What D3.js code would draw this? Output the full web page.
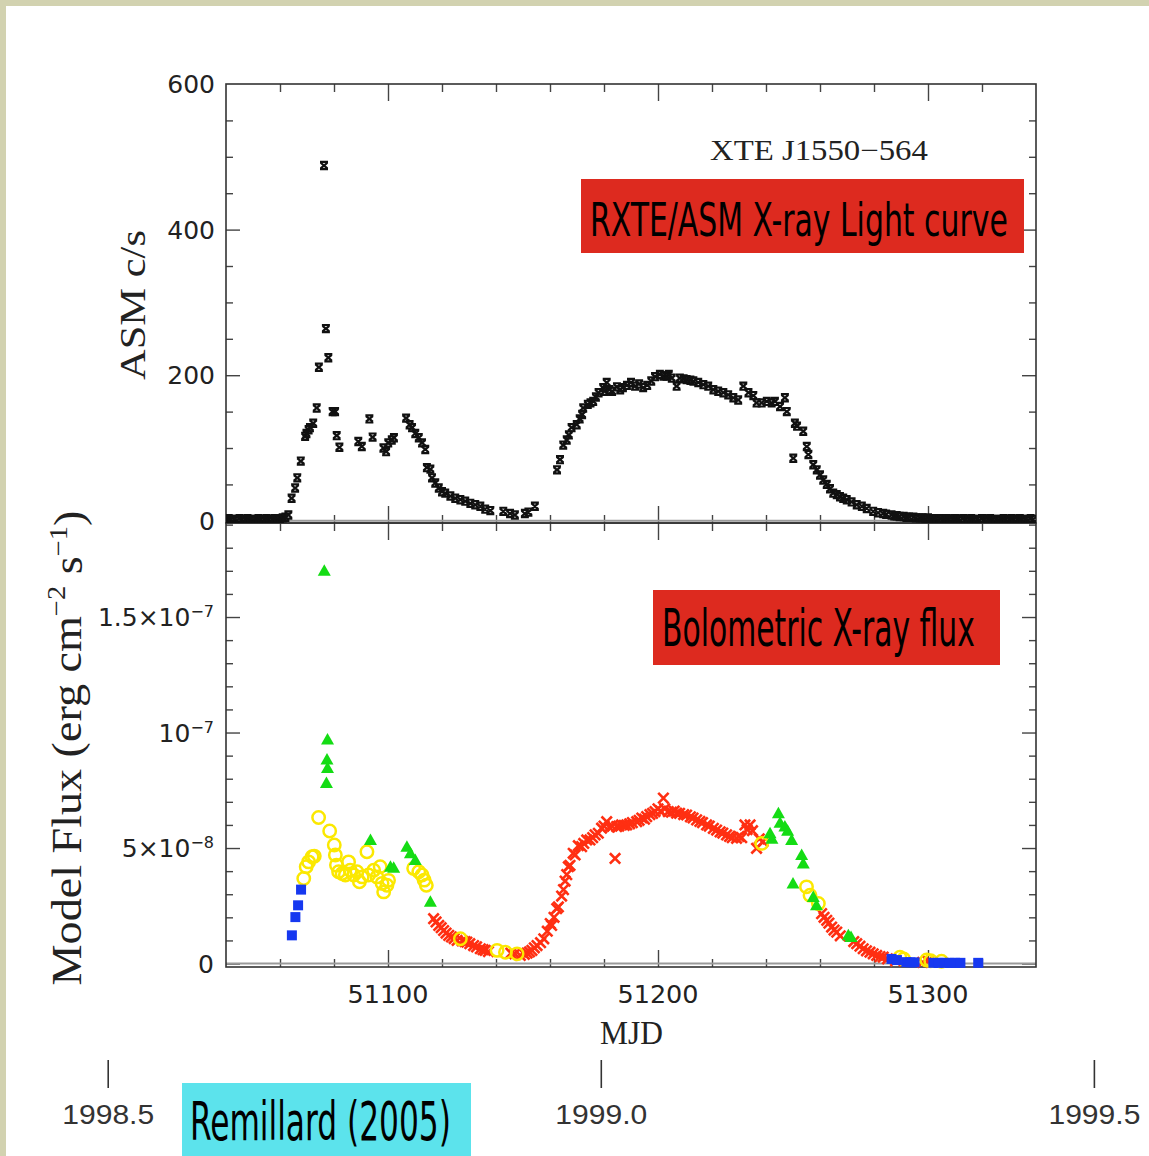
<!DOCTYPE html>
<html><head><meta charset="utf-8">
<script src="https://cdn.jsdelivr.net/npm/d3@7"></script>
<style>html,body{margin:0;padding:0;background:#fff;overflow:hidden}</style>
</head><body><svg id="c" width="1149" height="1156"></svg>
<script>
// ---------- DATA ----------
// RXTE/ASM count rate [MJD, c/s]
const asmData = [
[51040,2],[51041,3],[51042,2],[51043,2],[51044,1],[51045,3],[51046,2],[51047,2],[51048,3],[51049,2],[51050,1],[51051,2],[51052,3],[51053,2],[51054,2],[51055,3],[51056,2],[51057,2],[51058,3],[51059,2],[51060,3],[51061,4],[51062,5],
[51063.1,8],[51064.3,31],[51065.6,45],[51066.4,59],[51067.7,82],[51069.3,116],[51069.8,120],[51070.6,125],[51071.1,128],[51072.3,134],[51073.6,155],[51074.4,211],[51076.3,488],[51077,264],[51077.9,224],[51079.5,150],[51080.4,150],[51081,117],[51082,101],
[51089,109],[51090.3,102],[51093.1,140],[51094.3,115],[51098.3,100],[51099.3,95],[51100.1,107],[51101.4,111],[51102.2,114],
[51106.7,141],[51108,132],[51108.9,128],[51110.1,120],[51111.4,114],[51112.6,107],[51113.8,98],[51114.4,73],[51115.7,71],[51116.3,59],[51117.5,52],[51118.8,45],[51120,40],[51121.2,38],[51123.1,34],[51124.9,31],[51126.8,29],[51128.6,27],[51130.5,24],[51132.3,22],[51134.2,20],[51136,16],[51137.9,14],[51142.7,13],[51145.2,10],[51147,8],[51150.7,10],[51152,12],[51154.4,20],
[51162.6,70],[51163.7,84],[51164.9,104],[51166.2,111],[51167,118],[51168,128],[51169.9,132],[51171,140],[51171.9,146],[51172.3,155],[51174,160],[51175,162],[51176,164],[51177,170],[51178,176],[51179.7,183],[51180.3,178],[51181,190],[51182,180],[51183,178],[51184.8,184],[51186,180],[51187,183],[51188.5,186],[51190,190],[51191.5,185],[51193,188],[51194.5,183],[51196,186],[51197.5,192],[51198.9,198],[51200.7,201],[51202,199],[51203.2,199],[51204,201],[51205.1,196],[51206.9,185],[51208.1,196],[51209.5,195],[51210.6,194],[51212,193],[51213.1,192],[51214.9,190],[51216.8,187],[51218.6,185],[51220.5,180],[51222.3,178],[51224.2,176],[51226,173],[51227.9,169],[51229.7,166],[51231.6,185],[51233.5,176],[51235.3,172],[51236.5,162],[51238.4,162],[51240.3,164],[51242.1,162],[51243.3,164],[51245.2,157],[51247,169],[51247.7,150],[51250.1,86],[51250.7,134],[51251.5,130],[51253.8,123],[51255.1,102],[51255.7,91],[51257.5,77],[51258.8,70],[51260,63],[51261.2,56],[51262.5,50],[51263.7,44],[51264.9,38],[51266.2,36],[51267.4,33],[51268.6,31],[51269.9,29],[51271.7,26],[51273.6,22],[51275.5,20],[51277.3,17],[51279.7,13],[51281.5,11],[51283.4,10],[51284.5,9],[51286.5,8],[51287.5,7],[51288.4,7],[51289.5,6],[51291,6],[51292,5],[51293,5],[51294.6,5],[51295.5,4],[51297,4],[51298,4],[51299,3],[51300,4],[51301,3],[51302,3],[51303,3],[51304.4,3],
[51305,3],[51306,2],[51307,3],[51308,2],[51309,2],[51310,3],[51311,2],[51312,1],[51313,3],[51314,2],[51315,2],[51316,3],[51317,2],[51318,2],[51319,1],[51320,3],[51321,2],[51322,2],[51323,3],[51324,2],[51325,2],[51326,1],[51327,2],[51328,3],[51329,2],[51330,2],[51331,3],[51332,2],[51333,2],[51334,3],[51335,2],[51336,2],[51337,1],[51338,3],[51339,2]
];
// Model bolometric flux, units of 1e-8 erg cm^-2 s^-1, per spectral state
const redFlux = [
[51116.9,1.94],[51117.8,1.8],[51118.8,1.65],[51119.7,1.55],[51120.6,1.43],[51121.5,1.32],[51122.5,1.22],[51123.5,1.15],[51124.5,1.08],[51125.6,1.0],[51127.5,0.98],[51128.5,0.95],[51129.2,0.93],[51130.3,0.86],[51131.7,0.78],[51132.8,0.72],[51134.2,0.64],[51135.2,0.6],[51136,0.57],[51137.2,0.52],[51145.5,0.45],[51147,0.42],[51149,0.35],[51150.5,0.4],[51151.5,0.45],[51152.4,0.5],[51153.3,0.57],[51154.2,0.68],[51155.2,0.78],[51156.5,0.9],[51157.7,1.07],[51159,1.4],[51160.1,1.73],[51160.6,1.65],[51161.5,2.0],[51162.5,2.38],[51163.1,2.45],[51164.3,2.92],[51165,3.2],[51165.6,3.57],[51166.2,3.85],[51166.8,4.19],[51167.4,4.25],[51168.6,4.77],[51169.3,4.7],[51170.5,5.1],[51171.7,5.06],[51172.5,5.2],[51173.6,5.35],[51174.8,5.35],[51175.8,5.45],[51176.7,5.57],[51177.9,5.64],[51179.1,5.86],[51180,5.95],[51181,6.14],[51182,5.9],[51183,5.95],[51184.1,4.55],[51184.7,5.93],[51185.5,5.95],[51186.5,6.0],[51187.5,5.98],[51188.4,6.0],[51189.5,6.05],[51190.5,6.1],[51192.1,6.14],[51193,6.2],[51194,6.3],[51195,6.25],[51195.8,6.36],[51197,6.45],[51198,6.5],[51198.9,6.58],[51200,6.7],[51201,6.6],[51202,7.16],[51202.5,6.7],[51203.8,6.58],[51205,6.55],[51206,6.6],[51206.9,6.51],[51208,6.5],[51209.5,6.45],[51210.6,6.43],[51212,6.35],[51213,6.3],[51214.3,6.22],[51215.5,6.15],[51216.5,6.1],[51218,6.0],[51219,5.95],[51220.5,5.85],[51221.7,5.78],[51223,5.7],[51224,5.65],[51225.4,5.57],[51226.5,5.5],[51227.5,5.45],[51229.1,5.42],[51230,5.5],[51231,5.45],[51232.2,6.0],[51233,5.8],[51234.1,6.0],[51235,5.75],[51236.5,4.99],[51237.5,5.4],[51238.9,5.28],
[51260.6,2.16],[51261.5,2.0],[51262.5,1.87],[51263.3,1.75],[51264.3,1.58],[51265.2,1.45],[51266.2,1.36],[51267.5,1.2],[51272.5,0.95],[51273.6,0.86],[51274.8,0.75],[51276,0.64],[51277.2,0.55],[51278.5,0.49],[51279.7,0.42],[51281,0.35],[51282.2,0.3],[51283.4,0.28],[51285,0.2],[51288,0.12],[51298,0.05],[51300,0.1]
];
const yellowFlux = [
[51068.8,3.68],[51069.7,4.19],[51070.6,4.4],[51071.9,4.62],[51072.7,4.65],[51074.3,6.32],[51078.4,5.74],[51080.1,5.13],[51080.5,4.7],[51080.9,4.26],[51081.7,3.97],[51083,3.9],[51084.2,3.83],[51085.4,4.4],[51086,4.04],[51087.3,3.83],[51088.5,3.97],[51089.4,3.54],[51090.4,3.75],[51092.2,4.84],[51092.8,3.83],[51094.7,4.04],[51095.9,3.75],[51097.1,4.19],[51097.8,3.47],[51098.4,3.1],[51099.6,3.39],[51100.2,3.6],[51109.5,4.12],[51111.4,3.97],[51112.6,3.83],[51113.4,3.61],[51114.2,3.39],[51126.8,1.07],[51140.4,0.57],[51143.5,0.49],[51147.8,0.42],[51238.4,5.2],[51255,3.32],[51256.3,2.96],[51259.4,2.6],[51289.6,0.27],[51291,0.2],[51299.5,0.15],[51301,0.12],[51305,0.1]
];
const greenFlux = [
[51076.4,17.0],[51077.6,9.7],[51077.4,8.83],[51077.6,8.46],[51077.2,7.81],[51093.5,5.35],[51100.9,4.19],[51102.1,4.15],[51107,5.06],[51108.3,4.77],[51110.1,4.48],[51115.7,2.67],[51241.5,5.64],[51242.2,5.4],[51244.6,6.51],[51245.2,6.09],[51247,5.93],[51248,5.75],[51249.5,5.35],[51253.2,4.7],[51253.8,4.33],[51250,3.46],[51257.5,2.88],[51258.7,2.52],[51270.5,1.22],[51271.5,1.15]
];
const blueFlux = [
[51064.4,1.22],[51065.7,2.01],[51066.7,2.52],[51067.8,3.2],[51286.5,0.2],[51288.5,0.15],[51292,0.06],[51293.5,0.05],[51295,0.05],[51302,0.03],[51304,0.03],[51306,0.03],[51308,0.03],[51310,0.03],[51312,0.03],[51318.6,0.03]
];
const asmTickValues = [0,200,400,600];
const asmTickLabels = ["0","200","400","600"];
const fluxTickValues = [0,5,10,15];
const fluxTickLabels = [["0",""],["5\u00d710","\u22128"],["10","\u22127"],["1.5\u00d710","\u22127"]];
const mjdTickValues = [51100,51200,51300];
const mjdTickLabels = ["51100","51200","51300"];
const yearTickValues = [1998.5,1999.0,1999.5];
const yearTickLabels = ["1998.5","1999.0","1999.5"];

// ---------- DRAW ----------
const W=1149,H=1156;
const svg=d3.select("#c");
svg.append("rect").attr("width",W).attr("height",H).attr("fill","#d2d2b0");
svg.append("rect").attr("x",6).attr("y",6).attr("width",W-6).attr("height",H-6).attr("fill","#fff");

const L=226,R=1036,T1=84,B1=523,B2=967;
const x=d3.scaleLinear().domain([51040,51340]).range([L,R]);
const yTop=d3.scaleLinear().domain([-3,600]).range([B1,T1]);
const yBot=d3.scaleLinear().domain([-0.15,19.07]).range([B2,B1]);
const mjdOfYear = yr => 51179 + (yr-1999)*365.25;

const tickCol="#444";
function tickAxis(axis, tx, ty){
  const g=svg.append("g").attr("transform",`translate(${tx},${ty})`).call(axis);
  g.select(".domain").remove();
  g.selectAll(".tick line").attr("stroke",tickCol).attr("stroke-width",1.4);
  g.selectAll(".tick text").remove();
  return g;
}
const xMajor=[51100,51200,51300];
const xMinor=d3.range(51060,51340,20).filter(v=>v%100!==0);
const yTopMajor=[0,200,400];
const yTopMinor=d3.range(50,600,50).filter(v=>v%200!==0);
const yBotMajor=[0,5,10,15];
const yBotMinor=d3.range(1,19.5,1).filter(v=>v%5!==0);

[[d3.axisTop,T1],[d3.axisBottom,B1],[d3.axisTop,B1],[d3.axisBottom,B2]].forEach(([fn,yy])=>{
  tickAxis(fn(x).tickValues(xMajor).tickSize(-17).tickSizeOuter(0),0,yy);
  tickAxis(fn(x).tickValues(xMinor).tickSize(-8).tickSizeOuter(0),0,yy);
});
[[d3.axisLeft,L],[d3.axisRight,R]].forEach(([fn,xx])=>{
  tickAxis(fn(yTop).tickValues(yTopMajor).tickSize(-14).tickSizeOuter(0),xx,0);
  tickAxis(fn(yTop).tickValues(yTopMinor).tickSize(-7).tickSizeOuter(0),xx,0);
  tickAxis(fn(yBot).tickValues(yBotMajor).tickSize(-14).tickSizeOuter(0),xx,0);
  tickAxis(fn(yBot).tickValues(yBotMinor).tickSize(-7).tickSizeOuter(0),xx,0);
});

svg.append("line").attr("x1",L).attr("x2",R).attr("y1",yTop(0)).attr("y2",yTop(0)).attr("stroke","#9a9a9a").attr("stroke-width",2);
svg.append("line").attr("x1",L).attr("x2",R).attr("y1",yBot(0)).attr("y2",yBot(0)).attr("stroke","#9a9a9a").attr("stroke-width",2);

svg.append("rect").attr("x",L).attr("y",T1).attr("width",R-L).attr("height",B1-T1).attr("fill","none").attr("stroke","#333").attr("stroke-width",1.6);
svg.append("rect").attr("x",L).attr("y",B1).attr("width",R-L).attr("height",B2-B1).attr("fill","none").attr("stroke","#333").attr("stroke-width",1.6);

// ASM points
svg.append("clipPath").attr("id","clipT").append("rect").attr("x",L).attr("y",T1).attr("width",R-L).attr("height",B1-T1);
svg.append("g").attr("clip-path","url(#clipT)").selectAll("path.asm").data(asmData).join("path")
  .attr("transform",d=>`translate(${x(d[0])},${yTop(d[1])})`)
  .attr("d","M-3.4,-2.8L3.4,2.8M-3.4,2.8L3.4,-2.8M-4,-3.6H4M-4,3.6H4")
  .attr("stroke","#111").attr("stroke-width",2.2).attr("fill","none");

// Flux points
const gB=svg.append("g");
gB.selectAll("path.red").data(redFlux).join("path")
  .attr("transform",d=>`translate(${x(d[0])},${yBot(d[1])})`)
  .attr("d","M-5.2,-5.2L5.2,5.2M-5.2,5.2L5.2,-5.2").attr("stroke","#ff2f12").attr("stroke-width",2.6).attr("fill","none");
gB.selectAll("circle.yel").data(yellowFlux).join("circle")
  .attr("cx",d=>x(d[0])).attr("cy",d=>yBot(d[1])).attr("r",6.2)
  .attr("fill","none").attr("stroke","#fbe800").attr("stroke-width",2.5);
gB.selectAll("path.grn").data(greenFlux).join("path")
  .attr("transform",d=>`translate(${x(d[0])},${yBot(d[1])})`)
  .attr("d","M0,-6.5L6.5,5L-6.5,5Z").attr("fill","#14dc14");
gB.selectAll("rect.blu").data(blueFlux).join("rect")
  .attr("x",d=>x(d[0])-5).attr("y",d=>yBot(d[1])-5).attr("width",10).attr("height",10).attr("fill","#1638f0");

// tick labels
const numFont="'DejaVu Sans', sans-serif";
svg.selectAll("text.ya").data(asmTickValues).join("text")
  .attr("x",215).attr("y",d=>yTop(d)).attr("dy","0.36em").attr("text-anchor","end")
  .attr("font-family",numFont).attr("font-size",25).attr("fill","#222")
  .text((d,i)=>asmTickLabels[i]);
const fl=svg.selectAll("text.yb").data(fluxTickValues).join("text")
  .attr("x",214).attr("y",d=>yBot(d)).attr("dy","0.36em").attr("text-anchor","end")
  .attr("font-family",numFont).attr("font-size",25).attr("fill","#222");
fl.each(function(d,i){
  const t=d3.select(this);
  t.append("tspan").text(fluxTickLabels[i][0]);
  if(fluxTickLabels[i][1]) t.append("tspan").attr("font-size",16).attr("dy","-0.55em").text(fluxTickLabels[i][1]);
});
svg.selectAll("text.xb").data(mjdTickValues).join("text")
  .attr("x",d=>x(d)).attr("y",1003).attr("text-anchor","middle")
  .attr("font-family",numFont).attr("font-size",25.5).attr("fill","#222")
  .text((d,i)=>mjdTickLabels[i]);

// helper: place text and squeeze/stretch horizontally to a target width
function fitText(tx,ty,anchor,family,size,fill,txt,target,rot){
  const g=svg.append("g").attr("transform",`translate(${tx},${ty})`+(rot?` rotate(${rot})`:""));
  const t=g.append("text").attr("text-anchor",anchor).attr("font-family",family).attr("font-size",size).attr("fill",fill);
  if(typeof txt==="function") txt(t); else t.text(txt);
  const w=t.node().getComputedTextLength();
  t.attr("transform",`scale(${target/w},1)`);
  return t;
}

// year axis
svg.selectAll("line.yr").data(yearTickValues).join("line")
  .attr("x1",d=>x(mjdOfYear(d))).attr("x2",d=>x(mjdOfYear(d)))
  .attr("y1",1060).attr("y2",1088).attr("stroke","#333").attr("stroke-width",1.6);
yearTickValues.forEach((v,i)=>{
  fitText(x(mjdOfYear(v)),1124,"middle","'Liberation Sans Narrow','Liberation Sans',sans-serif",27,"#333",yearTickLabels[i],92);
});

// axis titles (serif)
const serif="'Liberation Serif','DejaVu Serif',serif";
fitText(145,305,"middle",serif,36,"#222","ASM c/s",150,-90);
fitText(81,748,"middle",serif,42,"#222",t=>{
  t.append("tspan").text("Model Flux (erg cm");
  t.append("tspan").attr("font-size",26).attr("dy","-0.6em").text("\u22122");
  t.append("tspan").attr("dy","0.4em").text(" s");
  t.append("tspan").attr("font-size",26).attr("dy","-0.6em").text("\u22121");
  t.append("tspan").attr("dy","0.4em").text(")");
},475,-90);
fitText(631.5,1044,"middle",serif,34,"#222","MJD",63);
fitText(710,160,"start",serif,29,"#222","XTE J1550\u2212564",218);

// annotation boxes
const condensed="'Liberation Sans Narrow','DejaVu Sans Condensed','Liberation Sans',sans-serif";
function labelBox(bx,by,bw,bh,fill,tx,ty,tw,fs,txt){
  svg.append("rect").attr("x",bx).attr("y",by).attr("width",bw).attr("height",bh).attr("fill",fill);
  fitText(tx,ty,"start",condensed,fs,"#000",txt,tw);
}
labelBox(581,179,443,74,"#dd2a1f",590,236,418,47,"RXTE/ASM X-ray Light curve");
labelBox(653,590,347,75,"#dd2a1f",662,646,313,52,"Bolometric X-ray flux");
labelBox(182,1083,289,73,"#5ce3ec",190,1140,261,53,"Remillard (2005)");
</script></body></html>
